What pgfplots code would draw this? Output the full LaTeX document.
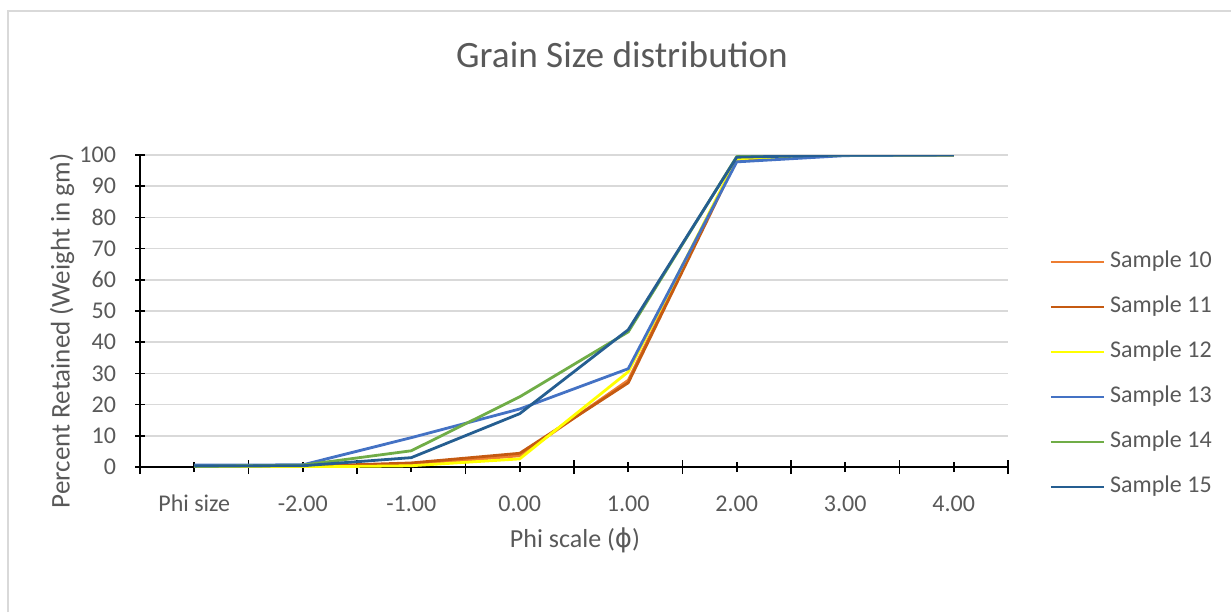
\documentclass[border=0pt]{standalone}
\usepackage{fontspec}
\setmainfont{Carlito}
\newfontfamily\symfont{DejaVu Sans}
\usepackage{pgfplots}
\pgfplotsset{compat=1.18}
\definecolor{txt}{HTML}{595959}
\definecolor{gridc}{HTML}{D9D9D9}
\definecolor{s10}{HTML}{ED7D31}
\definecolor{s11}{HTML}{C55A11}
\definecolor{s12}{HTML}{FFFF00}
\definecolor{s13}{HTML}{4472C4}
\definecolor{s14}{HTML}{70AD47}
\definecolor{s15}{HTML}{255E91}
\begin{document}
\begin{tikzpicture}
\useasboundingbox (0,0) rectangle (615.5pt,306pt);
% chart area border (cropped on right and bottom)
\draw[gridc, line width=0.8pt] (4pt,0pt) -- (4pt,300.5pt) -- (615.5pt,300.5pt);
\begin{axis}[
  at={(70pt,72.5pt)}, anchor=south west,
  scale only axis, width=434pt, height=156pt,
  xmin=-0.5, xmax=7.5, ymin=0, ymax=100,
  axis x line=bottom, axis y line=left,
  axis line style={black, line width=0.8pt, -},
  xtick={0,...,7},
  xticklabels={Phi size,-2.00,-1.00,0.00,1.00,2.00,3.00,4.00},
  minor xtick={-0.5,0.5,...,7.5},
  ytick={0,10,...,100},
  tick align=center,
  major tick length=5pt, minor tick length=7pt,
  every tick/.style={black, line width=0.8pt},
  ymajorgrids=true,
  grid style={gridc, line width=0.8pt},
  /pgf/number format/assume math mode=true,
  ticklabel style={font=\fontsize{12}{14}\selectfont, text=txt},
  xticklabel style={text height=8.5pt, text depth=2.5pt, inner sep=0pt, yshift=-11pt},
  yticklabel style={xshift=-6pt},
  legend style={at={(axis description cs:1,0.303)}, anchor=west, xshift=20.5pt, yshift=-1pt,
    draw=none, fill=none, font=\fontsize{12}{14}\selectfont, text=txt,
    nodes={text height=8.5pt, text depth=2.5pt, inner sep=0pt},
    column sep=2.5pt, row sep=11.5pt, inner sep=0pt},
  legend cell align=left,
  legend image code/.code={\draw[#1, line width=1.4pt] (0pt,0pt) -- (26.5pt,0pt);},
  every axis plot/.append style={line width=1.4pt, line join=round},
]
\addplot[s10] coordinates {(0,0) (1,0.1) (2,0.8) (3,3.6) (4,27.8) (5,99.0) (6,100) (7,100)};
\addlegendentry{Sample 10}
\addplot[s11] coordinates {(0,0) (1,0.2) (2,1.3) (3,4.4) (4,27.0) (5,98.6) (6,100) (7,100)};
\addlegendentry{Sample 11}
\addplot[s12] coordinates {(0,0) (1,0) (2,0.4) (3,2.6) (4,30.5) (5,98.8) (6,100) (7,100)};
\addlegendentry{Sample 12}
\addplot[s13] coordinates {(0,0.6) (1,0.7) (2,9.4) (3,18.6) (4,31.5) (5,97.8) (6,99.8) (7,100)};
\addlegendentry{Sample 13}
\addplot[s14] coordinates {(0,0.2) (1,0.6) (2,5.2) (3,22.5) (4,43.3) (5,99.5) (6,100) (7,100)};
\addlegendentry{Sample 14}
\addplot[s15] coordinates {(0,0.3) (1,0.4) (2,3.0) (3,17.1) (4,44.0) (5,99.3) (6,100) (7,100)};
\addlegendentry{Sample 15}
\end{axis}
\node[text=txt, font=\fontsize{18.6}{20}\selectfont] at (311pt,278.5pt) {Grain Size distribution};
\node[text=txt, font=\fontsize{13}{15}\selectfont] at (287.5pt,36pt) {Phi scale ({\symfont ϕ})};
\node[text=txt, font=\fontsize{13.5}{15}\selectfont, rotate=90] at (31pt,140.5pt) {Percent Retained (Weight in gm)};
\end{tikzpicture}
\end{document}
